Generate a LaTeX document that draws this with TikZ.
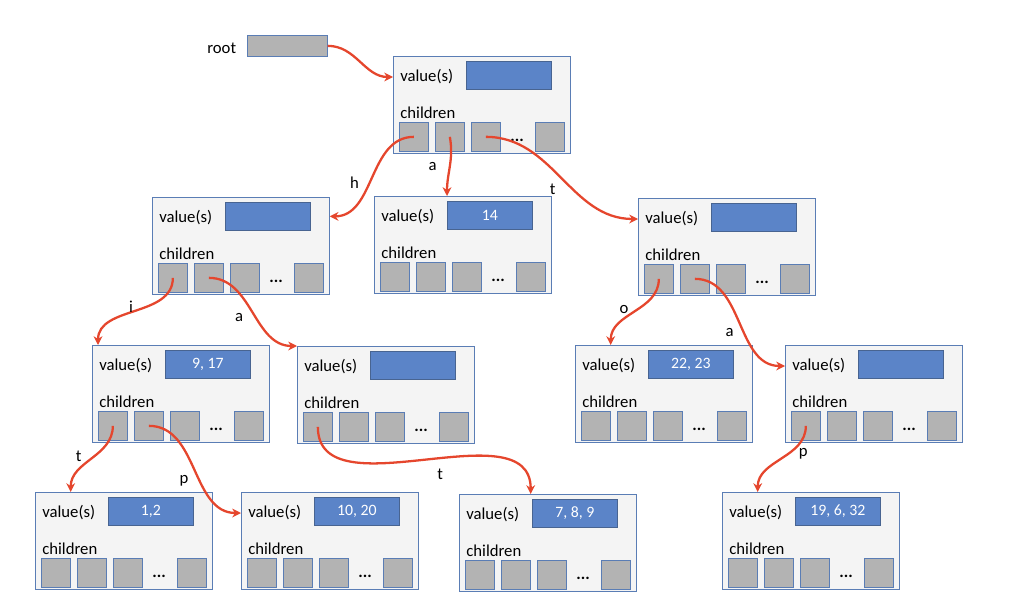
\documentclass[tikz,border=0pt]{standalone}
\usepackage{fontspec}
\setmainfont{Carlito}
\usetikzlibrary{arrows.meta}
\definecolor{boxfill}{HTML}{F4F4F4}
\definecolor{boxline}{HTML}{5A7DB5}
\definecolor{valblue}{HTML}{5B84C8}
\definecolor{sqgray}{HTML}{B3B3B3}
\definecolor{arrred}{HTML}{E5462D}

\tikzset{
	trie_box/.style={draw=boxline,fill=boxfill,anchor=north west,inner sep=0pt,minimum width=177*0.02cm,minimum height=97*0.02cm},
	val_box/.style={draw=boxline!80!black,fill=valblue,anchor=north west,inner sep=0pt,minimum width=85*0.02cm,minimum height=28*0.02cm,text=white,font=\fontsize{9}{10}\selectfont},
	child_sq/.style={draw=boxline,fill=sqgray,anchor=north west,inner sep=0pt,minimum size=29*0.02cm},
	lbl/.style={anchor=west,inner sep=0pt,font=\fontsize{9.5}{11}\selectfont},
	link/.style={draw=arrred,line width=1.3pt,-{Stealth[length=5pt,width=5pt]}},
	edge_lbl/.style={font=\fontsize{9.5}{11}\selectfont,inner sep=1pt}
}

% name, x, y, value
\newcommand\trienode[4]{%
	\node[trie_box] (#1) at (#2,#3) {};
	\node[lbl] (#1-v) at (#2+7,#3+21) {value(s)};
	\node[val_box] (#1-b) at (#2+73,#3+5) {#4};
	\node[lbl] (#1-ch) at (#2+7,#3+57) {children};
	\node[child_sq] (#1-c1) at (#2+6,#3+66) {};
	\node[child_sq] (#1-c2) at (#2+42,#3+66) {};
	\node[child_sq] (#1-c3) at (#2+78,#3+66) {};
	\node[lbl] (#1-d) at (#2+117,#3+84) {\textbf{...}};
	\node[child_sq] (#1-c4) at (#2+142,#3+66) {};
}

\begin{document}
\begin{tikzpicture}[x=0.02cm,y=-0.02cm]
	\useasboundingbox (0,0) rectangle (1024,615);

	\node[lbl] (rootlbl) at (207,48) {root};
	\node[draw=boxline,fill=sqgray,anchor=north west,inner sep=0pt,minimum width=80*0.02cm,minimum height=21*0.02cm] (root) at (247,35) {};

	\trienode{n}{393}{56}{}
	\trienode{h}{152}{197}{}
	\trienode{a}{374}{196}{14}
	\trienode{t}{638}{198}{}
	\trienode{hi}{92}{345}{9, 17}
	\trienode{ha}{297}{346}{}
	\trienode{to}{575}{345}{22, 23}
	\trienode{ta}{785}{345}{}
	\trienode{hit}{35}{492}{1,2}
	\trienode{hip}{241}{492}{10, 20}
	\trienode{hat}{459}{494}{7, 8, 9}
	\trienode{tap}{722}{492}{19, 6, 32}

	\draw[link] (root.east) to[out=0,in=180] (n.west |- n-v);
	\draw[link] (n-c1.center) to[out=180,in=0] node[edge_lbl,pos=0.55,left=4pt] {h} (h.north east |- h-b.center);
	\draw[link] (n-c2.center) to[out=-80,in=90] node[edge_lbl,pos=0.5,left=6pt] {a} (a.north -| a-b.west);
	\draw[link] (n-c3.center) to[out=0,in=180] node[edge_lbl,pos=0.5,below left=2pt] {t} (t.west |- t-v);
	\draw[link] (h-c1.center) to[out=-90,in=90] node[edge_lbl,pos=0.4,left=6pt] {i} (hi.north -| hi-c1.west);
	\draw[link] (h-c2.center) to[out=0,in=180] node[edge_lbl,pos=0.45,below left=2pt] {a} (ha.north west);
	\draw[link] (t-c1.center) to[out=-90,in=90] node[edge_lbl,pos=0.45,left=4pt] {o} (to.north -| to-c1.east);
	\draw[link] (t-c2.center) to[out=0,in=180] node[edge_lbl,pos=0.5,below left=2pt] {a} (ta.west |- ta-v);
	\draw[link] (hi-c1.center) to[out=-90,in=90] node[edge_lbl,pos=0.45,left=6pt] {t} (hit.north -| hit-c1.east);
	\draw[link] (hi-c2.center) to[out=0,in=180] node[edge_lbl,pos=0.5,below left=2pt] {p} (hip.west |- hip-v);
	\draw[link] (ha-c1.center) to[out=-90,in=90] node[edge_lbl,pos=0.55,below=4pt] {t} (hat.north -| hat-c2.east);
	\draw[link] (ta-c1.center) to[out=-90,in=90] node[edge_lbl,pos=0.4,right=4pt] {p} (tap.north -| tap-c1.east);
\end{tikzpicture}
\end{document}
